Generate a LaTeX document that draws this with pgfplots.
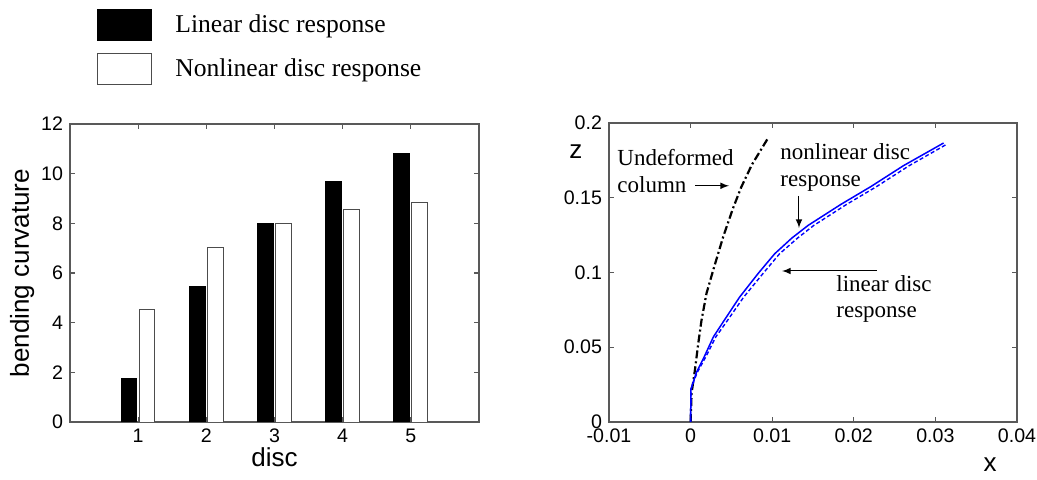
\documentclass[border=0pt]{standalone}
\usepackage{fontspec}
\setmainfont{Liberation Sans}
\newfontfamily\serif{Liberation Serif}
\usepackage{pgfplots}
\pgfplotsset{compat=1.18}

\pgfplotsset{
  matlab/.style={
    scale only axis,
    axis line style={black!65, line width=0.6pt},
    every tick/.style={black!65, line width=0.6pt},
    major tick length=2.5pt,
    tick align=inside,
    tick pos=both,
    tick label style={font=\fontsize{9.8}{11}\selectfont},
    label style={font=\fontsize{13}{15}\selectfont},
    /pgf/number format/assume math mode=true,
    scaled ticks=false,
  },
  boxlegend/.style={legend image code/.code={\draw[#1] (0pt,-7.75pt) rectangle (27pt,7.75pt);}},
}

\begin{document}
\begin{tikzpicture}
\path[use as bounding box] (0,0) rectangle (518.5pt,240pt);

% left: bending curvature per disc
\begin{axis}[matlab,
  at={(35pt,29pt)}, anchor=south west,
  width=204.5pt, height=149pt,
  xmin=0, xmax=6, ymin=0, ymax=12,
  xtick={1,2,3,4,5}, ytick={0,2,4,6,8,10,12},
  xlabel={disc}, ylabel={bending curvature},
  xlabel style={at={(axis description cs:0.5,-0.117)}, anchor=center},
  ylabel style={at={(axis description cs:-0.117,0.5)}, anchor=center},
  legend style={at={(axis description cs:0.064,1.386)}, anchor=north west,
    draw=none, fill=none, font=\serif\fontsize{12.8}{15}\selectfont,
    row sep=6pt, column sep=10pt, inner sep=0pt},
  legend cell align=left,
]
\addplot[ybar, bar width=0.23, bar shift=-0.135, fill=black, draw=black, forget plot]
  coordinates {(1,1.75) (2,5.45) (3,8.0) (4,9.7) (5,10.8)};
\addplot[ybar, bar width=0.23, bar shift=0.13, fill=white, draw=black!70, forget plot]
  coordinates {(1,4.55) (2,7.05) (3,8.0) (4,8.55) (5,8.85)};
\addlegendimage{boxlegend, fill=black, draw=black}
\addlegendentry{Linear disc response}
\addlegendimage{boxlegend, fill=white, draw=black!70}
\addlegendentry{Nonlinear disc response}
\end{axis}

% right: deformed column shape
\begin{axis}[matlab,
  at={(304.5pt,29pt)}, anchor=south west,
  width=204pt, height=149.5pt,
  xmin=-0.01, xmax=0.04, ymin=0, ymax=0.2,
  xtick={-0.01,0,0.01,0.02,0.03,0.04}, ytick={0,0.05,0.1,0.15,0.2},
  xticklabels={-0.01,0,0.01,0.02,0.03,0.04},
  yticklabels={0,0.05,0.1,0.15,0.2},
  xlabel={x}, ylabel={z},
  xlabel style={at={(axis description cs:0.934,-0.144)}, anchor=center},
  ylabel style={at={(axis description cs:-0.081,0.903)}, anchor=center, rotate=-90},
]
\addplot[black, line width=1.1pt, dash pattern=on 4pt off 1.5pt on 1pt off 1.5pt]
  coordinates {(0,0) (0.00012,0.0192) (0.00053,0.0348) (0.00094,0.0526) (0.00134,0.0682)
  (0.00195,0.0861) (0.0029,0.104) (0.0040,0.124) (0.0052,0.143) (0.0062,0.157)
  (0.0075,0.172) (0.0095,0.19)};
\addplot[blue, line width=0.75pt]
  coordinates {(0,0) (0.00004,0.022) (0.0007,0.033) (0.0017,0.044) (0.0028,0.057) (0.0040,0.067)
  (0.0060,0.0835) (0.0083,0.0995) (0.0103,0.1125) (0.0124,0.123) (0.0144,0.1315) (0.0164,0.1385)
  (0.0184,0.1455) (0.0221,0.1575) (0.0261,0.1715) (0.0310,0.1866)};
\addplot[blue, line width=0.7pt, dash pattern=on 2pt off 1.2pt]
  coordinates {(0,0) (0.00004,0.022) (0.0008,0.033) (0.0019,0.044) (0.0031,0.057) (0.0044,0.067)
  (0.0065,0.0835) (0.0089,0.0995) (0.0109,0.1125) (0.0131,0.123) (0.0151,0.1315) (0.0171,0.1385)
  (0.0191,0.1455) (0.0228,0.1575) (0.0268,0.1715) (0.0313,0.1855)};
\begin{scope}[font=\serif\fontsize{11.5}{13}\selectfont]
\node[anchor=base west, inner sep=0pt] at (axis cs:-0.00902,0.1719) {Undeformed};
\node[anchor=base west, inner sep=0pt] at (axis cs:-0.00902,0.1538) {column};
\node[anchor=base west, inner sep=0pt] at (axis cs:0.01096,0.1753) {nonlinear disc};
\node[anchor=base west, inner sep=0pt] at (axis cs:0.01096,0.1572) {response};
\node[anchor=base west, inner sep=0pt] at (axis cs:0.01782,0.087) {linear disc};
\node[anchor=base west, inner sep=0pt] at (axis cs:0.01782,0.0696) {response};
\end{scope}
\draw[-latex, line width=0.5pt] (axis cs:0.00054,0.158) -- (axis cs:0.00471,0.158);
\draw[-latex, line width=0.5pt] (axis cs:0.01328,0.1512) -- (axis cs:0.01328,0.1298);
\draw[-latex, line width=0.5pt] (axis cs:0.02284,0.101) -- (axis cs:0.0112,0.101);
\end{axis}
\end{tikzpicture}
\end{document}
